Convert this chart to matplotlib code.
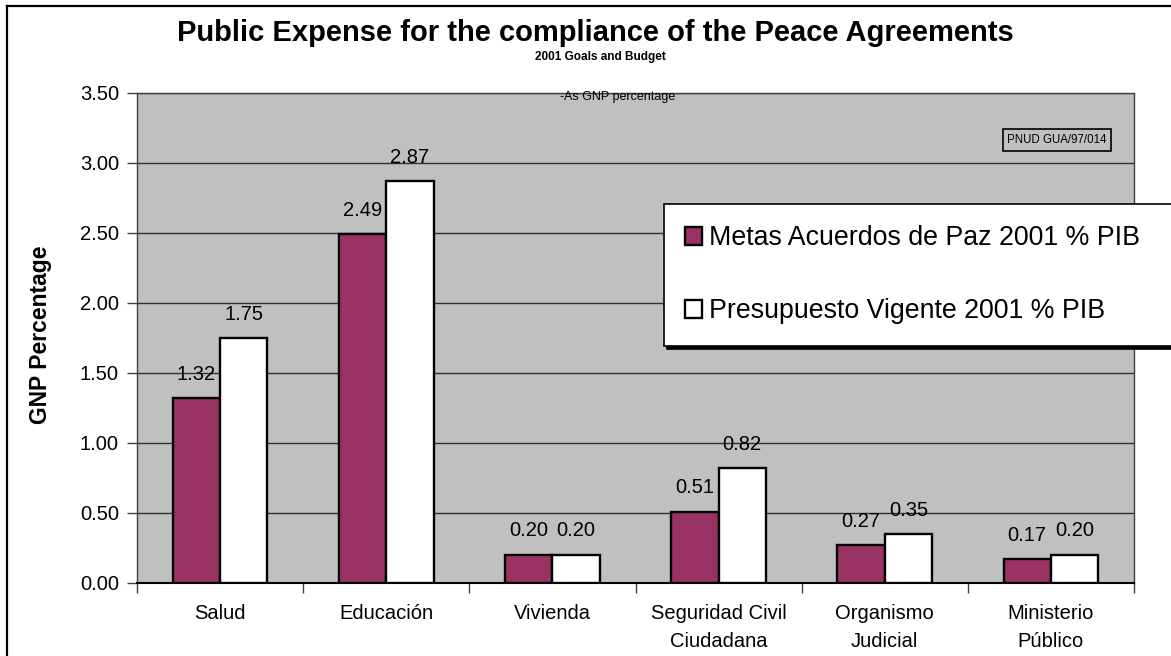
import numpy as np
import matplotlib
matplotlib.use("Agg")
import matplotlib.pyplot as plt
from matplotlib.lines import Line2D

plt.rcParams['font.family'] = ['Liberation Sans', 'DejaVu Sans']

# ---- data ----
categories = ["Salud", "Educación", "Vivienda", "Seguridad Civil\nCiudadana",
              "Organismo\nJudicial", "Ministerio\nPúblico"]
metas = [1.32, 2.49, 0.20, 0.51, 0.27, 0.17]
presupuesto = [1.75, 2.87, 0.20, 0.82, 0.35, 0.20]
series_names = ["Metas Acuerdos de Paz 2001 % PIB", "Presupuesto Vigente 2001 % PIB"]
yticks = [0.0, 0.5, 1.0, 1.5, 2.0, 2.5, 3.0, 3.5]

W, H = 1171, 656
fig = plt.figure(figsize=(W / 100, H / 100), dpi=100)
fig.patch.set_facecolor('white')

ax = fig.add_axes([137 / W, 1 - 583 / H, (1134 - 137) / W, (583 - 93) / H])
ax.set_facecolor('#C0C0C0')

x = np.arange(len(categories))
w = 0.285
b1 = ax.bar(x - w / 2, metas, w, color='#993366', edgecolor='black', linewidth=1.7,
            label=series_names[0], zorder=3)
b2 = ax.bar(x + w / 2, presupuesto, w, color='white', edgecolor='black', linewidth=1.7,
            label=series_names[1], zorder=3)

for bars, vals in ((b1, metas), (b2, presupuesto)):
    for rect, v in zip(bars, vals):
        ax.annotate(f"{v:.2f}", (rect.get_x() + rect.get_width() / 2, v),
                    xytext=(0, 24), textcoords='offset pixels',
                    ha='center', va='center', fontsize=14.5, color='black', zorder=4)

ax.set_xlim(-0.5, len(categories) - 0.5)
ax.set_ylim(0, 3.5)
ax.set_yticks(yticks)
ax.set_yticklabels([f"{t:.2f}" for t in yticks], fontsize=14.5)
ax.yaxis.grid(True, color='#303030', linewidth=1.0, zorder=1)
ax.set_axisbelow(True)

ax.set_xticks(np.arange(-0.5, len(categories), 1.0))
ax.set_xticklabels([])
ax.set_xticks(x, minor=True)
ax.set_xticklabels(categories, minor=True, fontsize=14.5, linespacing=1.6)
ax.tick_params(axis='x', which='major', length=7, width=1, direction='out', color='#404040')
ax.tick_params(axis='x', which='minor', length=0, pad=15)
ax.tick_params(axis='y', length=7, width=1, direction='out', pad=6, color='#404040')

for s in ('left', 'top', 'right'):
    ax.spines[s].set_color('#404040')
    ax.spines[s].set_linewidth(1.0)
ax.spines['bottom'].set_color('black')
ax.spines['bottom'].set_linewidth(1.5)

ax.set_ylabel("GNP Percentage", fontsize=16.5, fontweight='bold')
ax.yaxis.set_label_coords(52 / W, 1 - 335 / H, transform=fig.transFigure)

# titles
fig.text(595 / W, 1 - 33 / H, "Public Expense for the compliance of the Peace Agreements",
         ha='center', va='center', fontsize=21, fontweight='bold')
fig.text(600 / W, 1 - 57 / H, "2001 Goals and Budget",
         ha='center', va='center', fontsize=8.5, fontweight='bold')
fig.text(618 / W, 1 - 97 / H, "-As GNP percentage",
         ha='center', va='center', fontsize=9)

# PNUD label box
fig.text(1057 / W, 1 - 140 / H, "PNUD GUA/97/014", ha='center', va='center', fontsize=8.3,
         bbox=dict(boxstyle='square,pad=0.4', facecolor='#C0C0C0', edgecolor='black', linewidth=1.2))

# legend
leg = ax.legend(handles=[b1, b2], loc='upper left',
                bbox_to_anchor=(664 / W, 0, 530 / W, 1 - 204 / H),
                bbox_transform=fig.transFigure, mode='expand', borderaxespad=0,
                fontsize=19.3, handlelength=0.62, handleheight=0.62, handletextpad=0.25,
                labelspacing=1.75, borderpad=0.8, fancybox=False, framealpha=1,
                edgecolor='black', shadow={'color': 'black', 'alpha': 1})
leg.get_frame().set_linewidth(1.2)
leg.set_zorder(10)

# outer chart border (top and left visible)
fig.add_artist(Line2D([7 / W, 1.0], [1 - 6 / H, 1 - 6 / H], transform=fig.transFigure,
                      color='black', linewidth=1.6))
fig.add_artist(Line2D([7 / W, 7 / W], [0.0, 1 - 6 / H], transform=fig.transFigure,
                      color='black', linewidth=1.6))

fig.savefig("out.png", dpi=100, facecolor='white')
